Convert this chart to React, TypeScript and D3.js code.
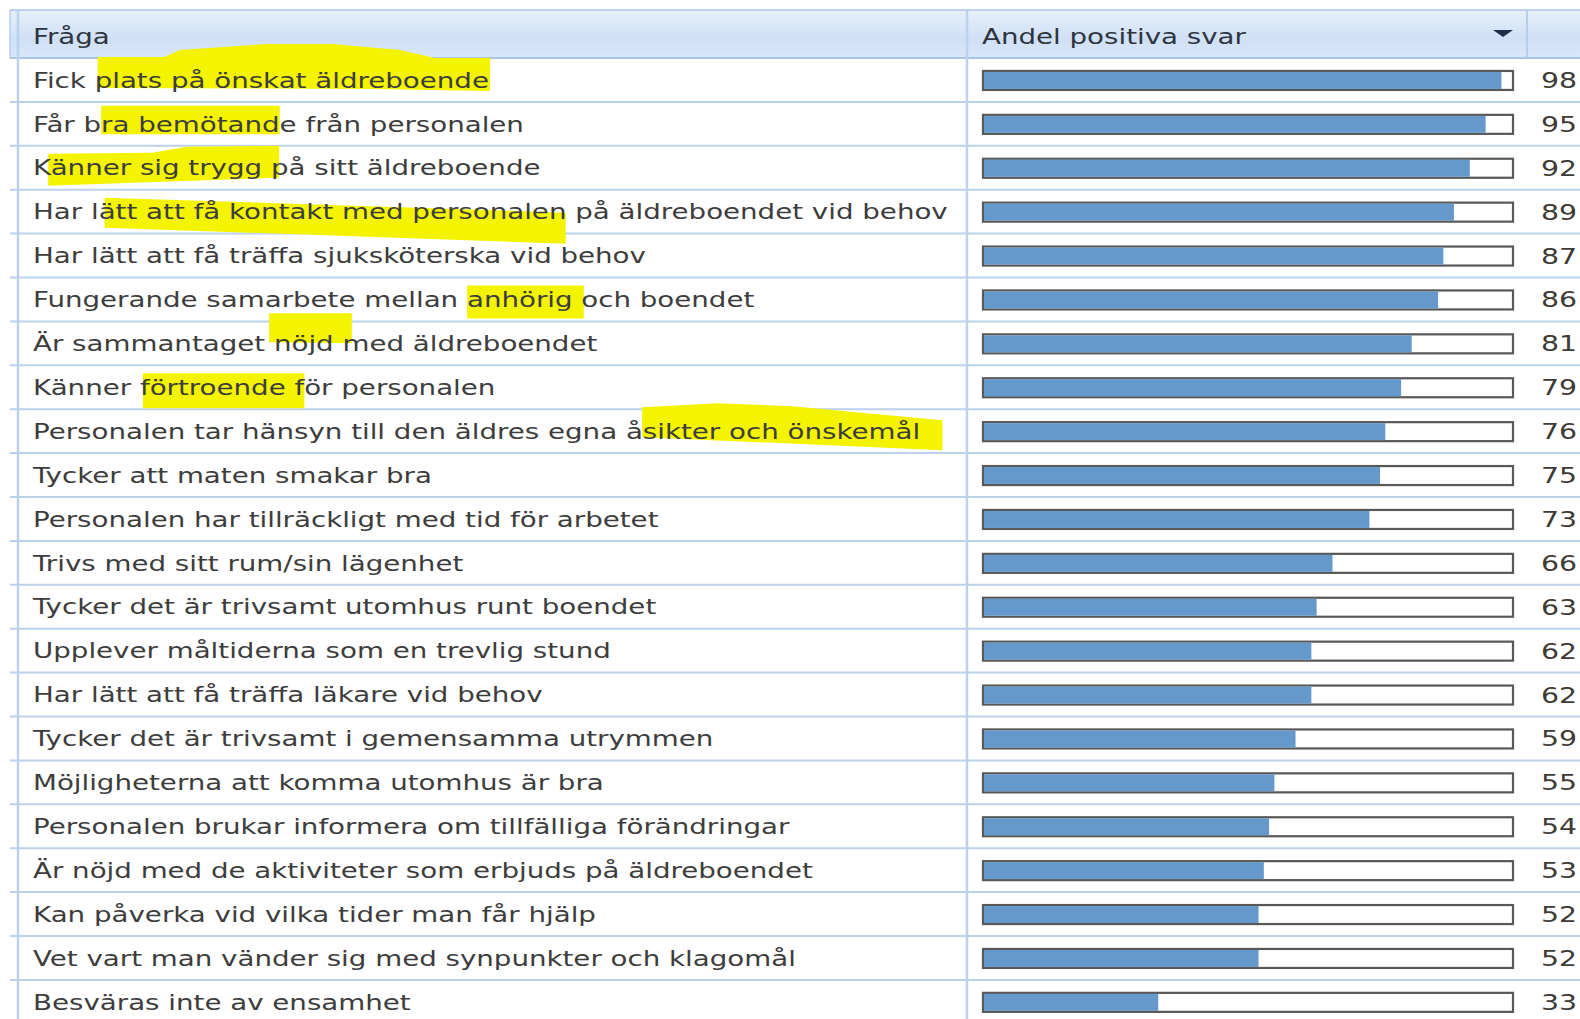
import React, { useMemo } from "react";
import * as d3 from "d3";

const questions = [
  "Fick plats på önskat äldreboende",
  "Får bra bemötande från personalen",
  "Känner sig trygg på sitt äldreboende",
  "Har lätt att få kontakt med personalen på äldreboendet vid behov",
  "Har lätt att få träffa sjuksköterska vid behov",
  "Fungerande samarbete mellan anhörig och boendet",
  "Är sammantaget nöjd med äldreboendet",
  "Känner förtroende för personalen",
  "Personalen tar hänsyn till den äldres egna åsikter och önskemål",
  "Tycker att maten smakar bra",
  "Personalen har tillräckligt med tid för arbetet",
  "Trivs med sitt rum/sin lägenhet",
  "Tycker det är trivsamt utomhus runt boendet",
  "Upplever måltiderna som en trevlig stund",
  "Har lätt att få träffa läkare vid behov",
  "Tycker det är trivsamt i gemensamma utrymmen",
  "Möjligheterna att komma utomhus är bra",
  "Personalen brukar informera om tillfälliga förändringar",
  "Är nöjd med de aktiviteter som erbjuds på äldreboendet",
  "Kan påverka vid vilka tider man får hjälp",
  "Vet vart man vänder sig med synpunkter och klagomål",
  "Besväras inte av ensamhet",
];

const values = [98, 95, 92, 89, 87, 86, 81, 79, 76, 75, 73, 66, 63, 62, 62, 59, 55, 54, 53, 52, 52, 33];

const headerLabels = ["Fråga", "Andel positiva svar"];

// highlighted phrases (yellow marker annotations)
const highlightRow = [0, 1, 2, 3, 5, 6, 7, 8];
const highlightFrom = ["plats", "ra bem", "änner", "ätt", "anhörig", "nöjd", "förtroende", "sikter"];
const highlightTo = ["äldreboende", "bemötand", "trygg", "personalen", "anhörig", "nöjd", "förtroende f", "önskemål"];

// marker stroke shapes (styling): top/bottom profiles as [fraction of width, dy from row centre]
const HL_SHAPES: { top: number[][]; bottom: number[][]; padL: number; padR: number }[] = [
  { top: [[0, -23], [0.17, -23], [0.21, -30], [0.43, -36], [0.6, -36], [0.77, -30], [0.86, -22], [1, -22]], bottom: [[0, 8], [0.7, 9], [1, 11]], padL: 3, padR: 1 },
  { top: [[0, -18], [1, -18]], bottom: [[0, 10.5], [1, 10.5]], padL: 0, padR: 0 },
  { top: [[0, -14], [0.45, -15], [0.6, -21], [1, -22]], bottom: [[0, 18], [1, 10]], padL: -3, padR: 17 },
  { top: [[0, -14], [1, 1]], bottom: [[0, 16], [1, 32]], padL: 6, padR: -1 },
  { top: [[0, -14], [1, -14]], bottom: [[0, 19], [1, 19]], padL: 0, padR: 11 },
  { top: [[0, -30], [1, -30]], bottom: [[0, -1], [1, 0]], padL: -5, padR: 18 },
  { top: [[0, -14], [1, -14]], bottom: [[0, 21], [1, 21]], padL: 3, padR: 0 },
  { top: [[0, -24], [0.25, -28], [0.5, -25], [1, -11]], bottom: [[0, 6], [1, 19]], padL: -1, padR: 22 },
];

const W = 1580;
const H = 1019;
const FONT = "DejaVu Sans";
const FS = 21.3;
const SX = 1.3;
const TEXT_X = 33;
const COL2 = 967;
const COL3 = 1527;
const HEADER_TOP = 10;
const HEADER_BOTTOM = 58;
const ROW_H = 43.9;
const LINE = "#bcd1ec";

export default function App() {
  const y = d3
    .scaleBand<number>()
    .domain(d3.range(questions.length))
    .range([HEADER_BOTTOM, HEADER_BOTTOM + ROW_H * questions.length])
    .padding(0);
  const x = d3.scaleLinear().domain([0, 100]).range([984, 1512]);

  const measure = useMemo(() => {
    const c = document.createElement("canvas");
    const ctx = c.getContext("2d")!;
    ctx.font = `${FS}px "${FONT}"`;
    return (s: string) => ctx.measureText(s).width * SX;
  }, []);

  const line = d3.line<number[]>().x((d) => d[0]).y((d) => d[1]).curve(d3.curveLinearClosed);

  const highlights = highlightRow.map((r, i) => {
    const text = questions[r];
    const s = text.indexOf(highlightFrom[i]);
    const e = text.indexOf(highlightTo[i], s) + highlightTo[i].length;
    const shape = HL_SHAPES[i];
    const x0 = TEXT_X + measure(text.slice(0, s)) + shape.padL;
    const x1 = TEXT_X + measure(text.slice(0, e)) + shape.padR;
    const cy = (y(r) as number) + ROW_H / 2;
    const top = shape.top.map(([f, dy]) => [x0 + f * (x1 - x0), cy + dy]);
    const bottom = shape.bottom.map(([f, dy]) => [x0 + f * (x1 - x0), cy + dy]).reverse();
    return line([...top, ...bottom]) as string;
  });

  return (
    <svg width={W} height={H} style={{ position: "absolute", left: 0, top: 0, background: "#fff" }}>
      <defs>
        <linearGradient id="hdr" x1="0" y1="0" x2="0" y2="1">
          <stop offset="0%" stopColor="#e6f0fc" />
          <stop offset="60%" stopColor="#cfe0f6" />
          <stop offset="100%" stopColor="#d9e7f9" />
        </linearGradient>
      </defs>
      {/* header */}
      <rect x={10} y={HEADER_TOP} width={W - 10} height={HEADER_BOTTOM - HEADER_TOP} fill="url(#hdr)" />
      <line x1={10} x2={W} y1={HEADER_TOP} y2={HEADER_TOP} stroke="#abc5e8" strokeWidth={1.5} />
      <line x1={10} x2={W} y1={HEADER_BOTTOM} y2={HEADER_BOTTOM} stroke="#abc5e8" strokeWidth={2} />
      <line x1={10} x2={10} y1={HEADER_TOP} y2={HEADER_BOTTOM} stroke="#b7cdea" strokeWidth={1.5} />
      <line x1={COL3} x2={COL3} y1={HEADER_TOP} y2={HEADER_BOTTOM} stroke="#b7cdea" strokeWidth={2} />
      <text transform={`translate(${TEXT_X},43.5) scale(${SX},1)`} fontFamily={FONT} fontSize={FS} fill="#2e3540">
        {headerLabels[0]}
      </text>
      <text transform={`translate(982,43.5) scale(${SX},1)`} fontFamily={FONT} fontSize={FS} fill="#2e3540">
        {headerLabels[1]}
      </text>
      <path d="M1493,30 L1513,30 L1503,37 Z" fill="#1f2d48" />

      {/* row lines */}
      {questions.map((_, i) => (
        <line key={"rl" + i} x1={10} x2={W} y1={(y(i) as number) + ROW_H} y2={(y(i) as number) + ROW_H} stroke={LINE} strokeWidth={2} />
      ))}
      <line x1={18} x2={18} y1={HEADER_TOP} y2={H} stroke={LINE} strokeWidth={2.5} />
      <line x1={COL2} x2={COL2} y1={HEADER_TOP} y2={H} stroke={LINE} strokeWidth={2.5} />

      {/* highlights */}
      {highlights.map((d, i) => (
        <path key={"hl" + i} d={d} fill="#f4f400" />
      ))}

      {/* rows */}
      {questions.map((q, i) => {
        const cy = (y(i) as number) + ROW_H / 2;
        return (
          <g key={"r" + i}>
            <text transform={`translate(${TEXT_X},${cy + 7.7}) scale(${SX},1)`} fontFamily={FONT} fontSize={FS} fill="#3d3d3d">
              {q}
            </text>
            <rect x={x(0) - 1} y={cy - 9} width={x(100) - x(0) + 2} height={19} fill="#fff" stroke="#585858" strokeWidth={2.2} />
            <rect x={x(0)} y={cy - 8} width={x(values[i]) - x(0)} height={17} fill="#6599cb" />
            <text transform={`translate(1541,${cy + 8}) scale(${SX},1)`} fontFamily={FONT} fontSize={FS + 0.5} fill="#3e3a36">
              {values[i]}
            </text>
          </g>
        );
      })}
    </svg>
  );
}
